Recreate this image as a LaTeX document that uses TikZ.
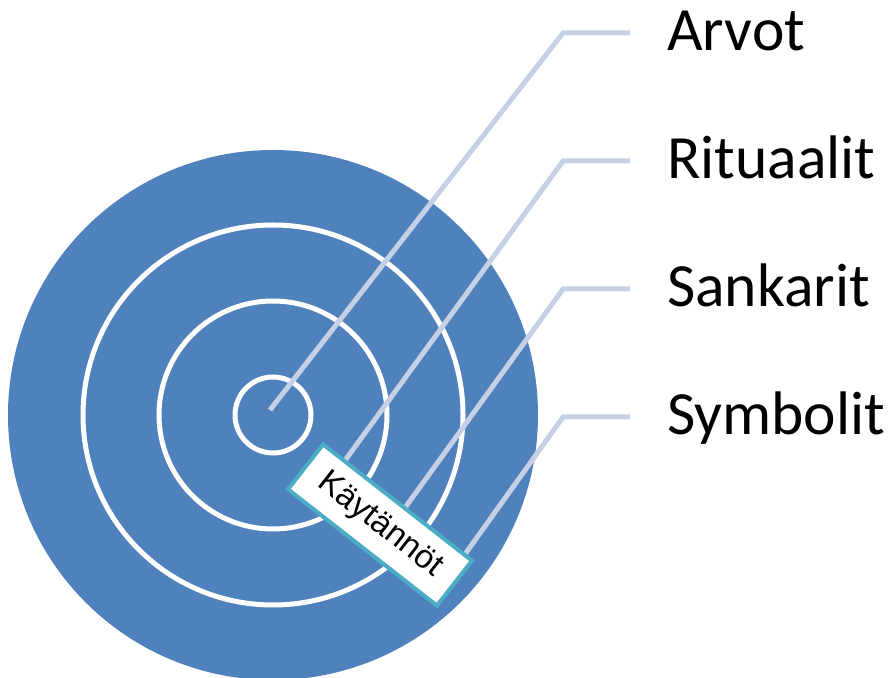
\documentclass[tikz,border=0pt]{standalone}
\usepackage{fontspec}
\setmainfont{Liberation Sans}
\newfontfamily\labelfont{Carlito}
\definecolor{ringblue}{RGB}{79,129,189}
\definecolor{leaderline}{RGB}{197,208,229}
\definecolor{boxteal}{RGB}{75,172,198}
\begin{document}
\begin{tikzpicture}[x=1pt,y=1pt,
  ring/.style={draw=white,line width=5pt},
  leader/.style={draw=leaderline,line width=5pt},
  levellabel/.style={anchor=base west,inner sep=0pt,font=\labelfont\fontsize{61.5}{72}\selectfont},
  tagbox/.style={draw=boxteal,line width=4pt,fill=white,rotate=-38,
    minimum width=189pt,minimum height=57pt,inner sep=0pt,
    font=\fontsize{33}{40}\selectfont}]
  \useasboundingbox (0,0) rectangle (891,677);

  % target: solid disc with three white rings
  \coordinate (ctr) at (273,262);
  \fill[ringblue] (ctr) circle[radius=265];
  \draw[ring] (ctr) circle[radius=190];
  \draw[ring] (ctr) circle[radius=114];
  \draw[ring] (ctr) circle[radius=38];

  % leader lines: start, bend, end
  \coordinate (s1) at (270,267);
  \coordinate (s2) at (333,200);
  \coordinate (s3) at (394,154);
  \coordinate (s4) at (453,106);
  \coordinate (b1) at (563,644);
  \coordinate (b2) at (563,516);
  \coordinate (b3) at (563,388);
  \coordinate (b4) at (563,260);
  \coordinate (e1) at (630,644);
  \coordinate (e2) at (630,516);
  \coordinate (e3) at (630,388);
  \coordinate (e4) at (630,260);
  \draw[leader] (s1) -- (b1) -- (e1);
  \draw[leader] (s2) -- (b2) -- (e2);
  \draw[leader] (s3) -- (b3) -- (e3);
  \draw[leader] (s4) -- (b4) -- (e4);

  % level labels
  \node[levellabel] (arvot) at (667,626) {Arvot};
  \node[levellabel] (rituaalit) at (667,498) {Rituaalit};
  \node[levellabel] (sankarit) at (667,370) {Sankarit};
  \node[levellabel] (symbolit) at (667,242) {Symbolit};

  % tilted tag across the rings
  \node[tagbox] (kaytannot) at (380,152) {Käytännöt};
\end{tikzpicture}
\end{document}
